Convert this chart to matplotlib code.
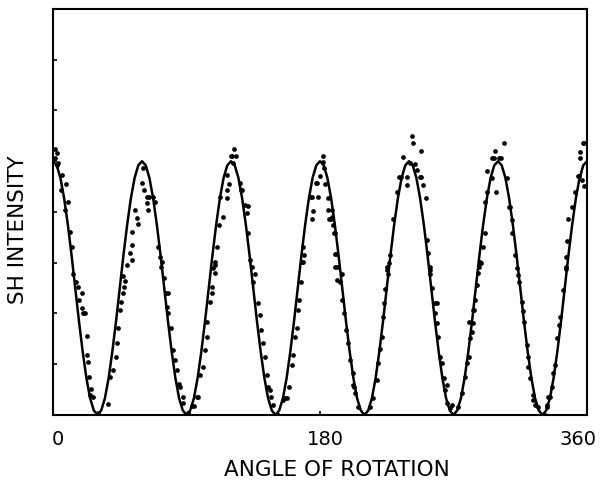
import numpy as np
import matplotlib
matplotlib.use('Agg')
import matplotlib.pyplot as plt
from matplotlib.transforms import ScaledTranslation

# fitted curve, every 2.5 degrees
fit_angle = np.arange(0, 362.5, 2.5)
fit_intensity = [
    5.00, 4.92, 4.67, 4.27, 3.75, 3.15, 2.50, 1.85, 1.25, 0.73, 0.33, 0.09,
    0.00, 0.09, 0.33, 0.73, 1.25, 1.85, 2.50, 3.15, 3.75, 4.27, 4.67, 4.92,
    5.00, 4.92, 4.67, 4.27, 3.75, 3.15, 2.50, 1.85, 1.25, 0.73, 0.33, 0.09,
    0.00, 0.09, 0.33, 0.73, 1.25, 1.85, 2.50, 3.15, 3.75, 4.27, 4.67, 4.92,
    5.00, 4.92, 4.67, 4.27, 3.75, 3.15, 2.50, 1.85, 1.25, 0.73, 0.33, 0.09,
    0.00, 0.09, 0.33, 0.73, 1.25, 1.85, 2.50, 3.15, 3.75, 4.27, 4.67, 4.92,
    5.00, 4.92, 4.67, 4.27, 3.75, 3.15, 2.50, 1.85, 1.25, 0.73, 0.33, 0.09,
    0.00, 0.09, 0.33, 0.73, 1.25, 1.85, 2.50, 3.15, 3.75, 4.27, 4.67, 4.92,
    5.00, 4.92, 4.67, 4.27, 3.75, 3.15, 2.50, 1.85, 1.25, 0.73, 0.33, 0.09,
    0.00, 0.09, 0.33, 0.73, 1.25, 1.85, 2.50, 3.15, 3.75, 4.27, 4.67, 4.92,
    5.00, 4.92, 4.67, 4.27, 3.75, 3.15, 2.50, 1.85, 1.25, 0.73, 0.33, 0.09,
    0.00, 0.09, 0.33, 0.73, 1.25, 1.85, 2.50, 3.15, 3.75, 4.27, 4.67, 4.92,
    5.00,
]

# measured points (angle in degrees, intensity in axis units)
measured = [
    # 0 - 30
    (1.3, 5.25), (2.5, 5.16), (1.3, 5.06), (3.6, 4.97), (2.5, 4.93), (5.8, 4.73),
    (8.8, 4.55), (5.2, 4.43), (10.3, 4.20), (8.1, 4.04), (11.5, 3.61), (12.6, 3.32),
    (13.7, 2.78), (15.5, 2.63), (17.1, 2.53), (19.3, 2.40), (17.8, 2.27), (19.3, 2.10),
    (20.4, 2.00), (21.4, 2.00), (22.7, 1.56), (22.7, 1.18), (23.8, 1.05), (24.5, 0.75),
    (25.4, 0.52), (25.0, 0.39), (27.2, 0.36), (30.6, 0.03),
    # 30 - 60
    (37.3, 0.22), (38.4, 0.75), (40.2, 0.89), (42.5, 1.15), (43.4, 1.42), (44.1, 1.71),
    (45.2, 2.07), (45.9, 2.23), (47.0, 2.40), (47.9, 2.53), (48.6, 2.65), (50.1, 2.96),
    (47.4, 2.73), (53.1, 3.05), (51.9, 3.20), (53.5, 3.35), (53.1, 3.61), (57.5, 3.76),
    (56.4, 3.89), (55.3, 4.04), (59.8, 4.58), (61.6, 4.43), (60.9, 4.86),
    # 60 - 90
    (63.2, 4.29), (64.5, 4.29), (67.6, 4.29), (63.6, 4.17), (64.3, 4.03), (68.8, 4.20),
    (71.0, 3.32), (72.1, 3.12), (72.6, 2.92), (73.3, 3.02), (74.8, 2.69), (76.2, 2.40),
    (77.2, 2.40), (76.7, 2.13), (77.8, 2.00), (79.4, 1.71), (81.1, 1.28), (82.3, 1.08),
    (83.4, 0.89), (85.2, 0.62), (85.6, 0.56), (87.4, 0.36), (87.9, 0.23), (91.2, 0.03),
    # 90 - 120
    (93.6, 0.18), (94.8, 0.18), (96.9, 0.36), (98.0, 0.36), (99.1, 0.79), (100.9, 0.95),
    (102.5, 1.28), (103.6, 1.54), (104.1, 1.84), (105.9, 2.23), (107.0, 2.40),
    (107.4, 2.53), (109.2, 2.79), (109.2, 2.96), (108.1, 2.89), (109.2, 3.02),
    (110.8, 3.32), (112.1, 3.74), (114.8, 3.91), (112.6, 4.29), (117.1, 4.27),
    (117.1, 4.43), (118.9, 4.56), (117.5, 4.73), (121.6, 4.96), (120.0, 5.10),
    (121.0, 5.10), (123.4, 5.10), (122.3, 5.24),
    # 120 - 150
    (126.1, 4.58), (126.7, 4.43), (127.7, 4.43), (129.5, 4.14), (131.7, 4.12),
    (130.6, 3.99), (131.7, 3.58), (132.8, 3.05), (134.0, 2.92), (136.2, 2.78),
    (135.1, 2.63), (138.4, 2.20), (139.6, 1.97), (140.0, 1.67), (141.8, 1.41),
    (143.0, 1.15), (144.1, 0.79), (145.2, 0.56), (146.3, 0.49), (146.8, 0.36),
    (148.5, 0.20), (150.8, 0.02),
    # 150 - 180
    (155.3, 0.30), (156.6, 0.33), (157.6, 0.33), (159.4, 0.56), (161.0, 0.99),
    (161.6, 1.18), (163.2, 1.54), (164.3, 1.71), (165.4, 2.07), (166.1, 2.27),
    (167.0, 2.63), (167.7, 3.02), (168.8, 3.02), (168.8, 3.32), (169.2, 3.15),
    (174.4, 3.87), (175.5, 4.01), (173.9, 4.29), (174.9, 4.29), (178.9, 4.29),
    (177.3, 4.58), (178.3, 4.58), (180.0, 4.70), (182.7, 4.86), (181.9, 4.99),
    (182.3, 5.10),
    # 180 - 210
    (183.4, 4.56), (185.6, 4.27), (185.6, 4.04), (186.3, 3.87), (187.3, 3.87),
    (187.9, 4.04), (187.9, 3.90), (189.0, 3.74), (189.5, 3.59), (190.2, 3.59),
    (190.2, 3.17), (190.8, 3.17), (191.3, 2.92), (190.2, 2.92), (191.3, 2.66),
    (193.5, 2.63), (194.6, 2.78), (194.6, 2.27), (196.2, 2.00), (197.6, 1.67),
    (199.1, 1.41), (200.3, 1.08), (202.1, 0.82), (202.4, 0.59), (203.0, 0.56),
    (203.6, 0.43), (205.9, 0.16), (210.4, 0.00),
    # 210 - 240
    (213.8, 0.16), (216.0, 0.33), (218.3, 0.69), (219.4, 1.02), (220.5, 1.31),
    (221.6, 1.54), (222.8, 1.94), (223.2, 2.20), (223.9, 2.48), (225.5, 2.86),
    (226.8, 2.99), (225.0, 2.92), (226.1, 2.78), (227.2, 3.15), (229.5, 3.87),
    (231.7, 4.40), (233.5, 4.68), (234.5, 4.68), (238.5, 4.68), (238.9, 4.53),
    (235.8, 5.08), (240.7, 4.96), (241.9, 5.50), (242.5, 5.35),
    # 240 - 270
    (244.1, 4.94), (245.2, 4.83), (247.9, 5.21), (247.4, 4.68), (248.4, 4.68),
    (249.7, 4.53), (251.5, 4.27), (251.9, 3.45), (253.0, 3.19), (254.2, 2.92),
    (254.2, 2.78), (254.2, 2.86), (255.3, 2.50), (257.7, 2.21), (258.7, 2.21),
    (257.6, 2.00), (258.7, 1.81), (259.8, 1.54), (260.9, 1.15), (262.1, 1.02),
    (263.6, 0.72), (264.3, 0.49), (265.5, 0.23), (265.5, 0.59), (267.7, 0.13),
    (268.8, 0.20), (270.4, 0.00),
    # 270 - 300
    (273.3, 0.16), (275.6, 0.43), (277.8, 0.75), (278.9, 1.02), (280.7, 1.15),
    (281.2, 1.51), (282.3, 1.64), (283.0, 1.81), (280.7, 1.84), (282.9, 2.07),
    (283.9, 2.07), (284.6, 2.27), (285.7, 2.56), (286.8, 2.79), (288.4, 2.99),
    (287.9, 3.02), (287.5, 2.92), (289.7, 3.32), (291.3, 3.59), (291.3, 4.20),
    (292.4, 4.40), (292.4, 4.81), (295.8, 4.66), (296.0, 5.06), (297.0, 5.06),
    (298.0, 5.21), (298.7, 4.40),
    # 300 - 330
    (300.9, 5.06), (301.9, 5.06), (304.1, 5.35), (305.9, 4.66), (307.2, 4.10),
    (308.2, 4.10), (309.3, 3.84), (309.3, 3.58), (311.5, 3.15), (313.1, 2.89),
    (313.8, 2.76), (314.4, 2.63), (316.0, 2.23), (317.1, 2.04), (317.6, 1.84),
    (319.4, 1.38), (320.5, 1.15), (320.5, 0.95), (321.7, 0.72), (323.9, 0.30),
    (323.9, 0.39), (325.0, 0.20), (327.3, 0.16), (331.8, 0.00),
    # 330 - 360
    (332.9, 0.20), (333.3, 0.16), (334.0, 0.36), (335.1, 0.36), (336.2, 0.56),
    (337.4, 0.82), (338.5, 0.99), (340.1, 1.51), (341.4, 1.77), (341.9, 1.94),
    (344.1, 2.46), (345.9, 2.87), (345.9, 2.92), (345.9, 3.12), (346.4, 3.42),
    (347.5, 3.86), (349.7, 4.10), (352.0, 4.40), (353.7, 4.70), (354.7, 4.70),
    (356.5, 4.63), (358.0, 4.51), (355.4, 5.06), (355.4, 5.19), (357.1, 5.35),
    (358.1, 5.35),
]
meas_angle, meas_intensity = zip(*measured)

tick_angles = [0, 180, 360]
tick_labels = ['0', '180', '360']

fig = plt.figure(figsize=(6.01, 4.86), dpi=100)
ax = fig.add_axes([0.0882, 0.1461, 0.8885, 0.8354])

ax.plot(fit_angle, fit_intensity, color='black', linewidth=1.8)
ax.plot(meas_angle, meas_intensity, 'o', color='black', markersize=3.4,
        markeredgewidth=0)

ax.set_xlim(0, 360)
ax.set_ylim(0, 8)
ax.set_xticks(tick_angles)
ax.set_xticklabels(tick_labels, fontsize=14)
ax.set_yticks(range(0, 9))
ax.set_yticklabels([])
ax.tick_params(direction='in', length=3, width=1.2, pad=11)

# nudge tick labels sideways like the original lettering
for lab, dx in zip(ax.get_xticklabels(), [5, 5, -9]):
    lab.set_transform(lab.get_transform() + ScaledTranslation(dx / 100, 0, fig.dpi_scale_trans))

for sp in ax.spines.values():
    sp.set_linewidth(1.5)

fig.text(337 / 601, 1 - 470 / 486, 'ANGLE OF ROTATION', fontsize=15.5,
         ha='center', va='center')
fig.text(18 / 601, 1 - 230 / 486, 'SH INTENSITY', fontsize=15.5,
         ha='center', va='center', rotation=90)

fig.savefig('out.png', dpi=100)
